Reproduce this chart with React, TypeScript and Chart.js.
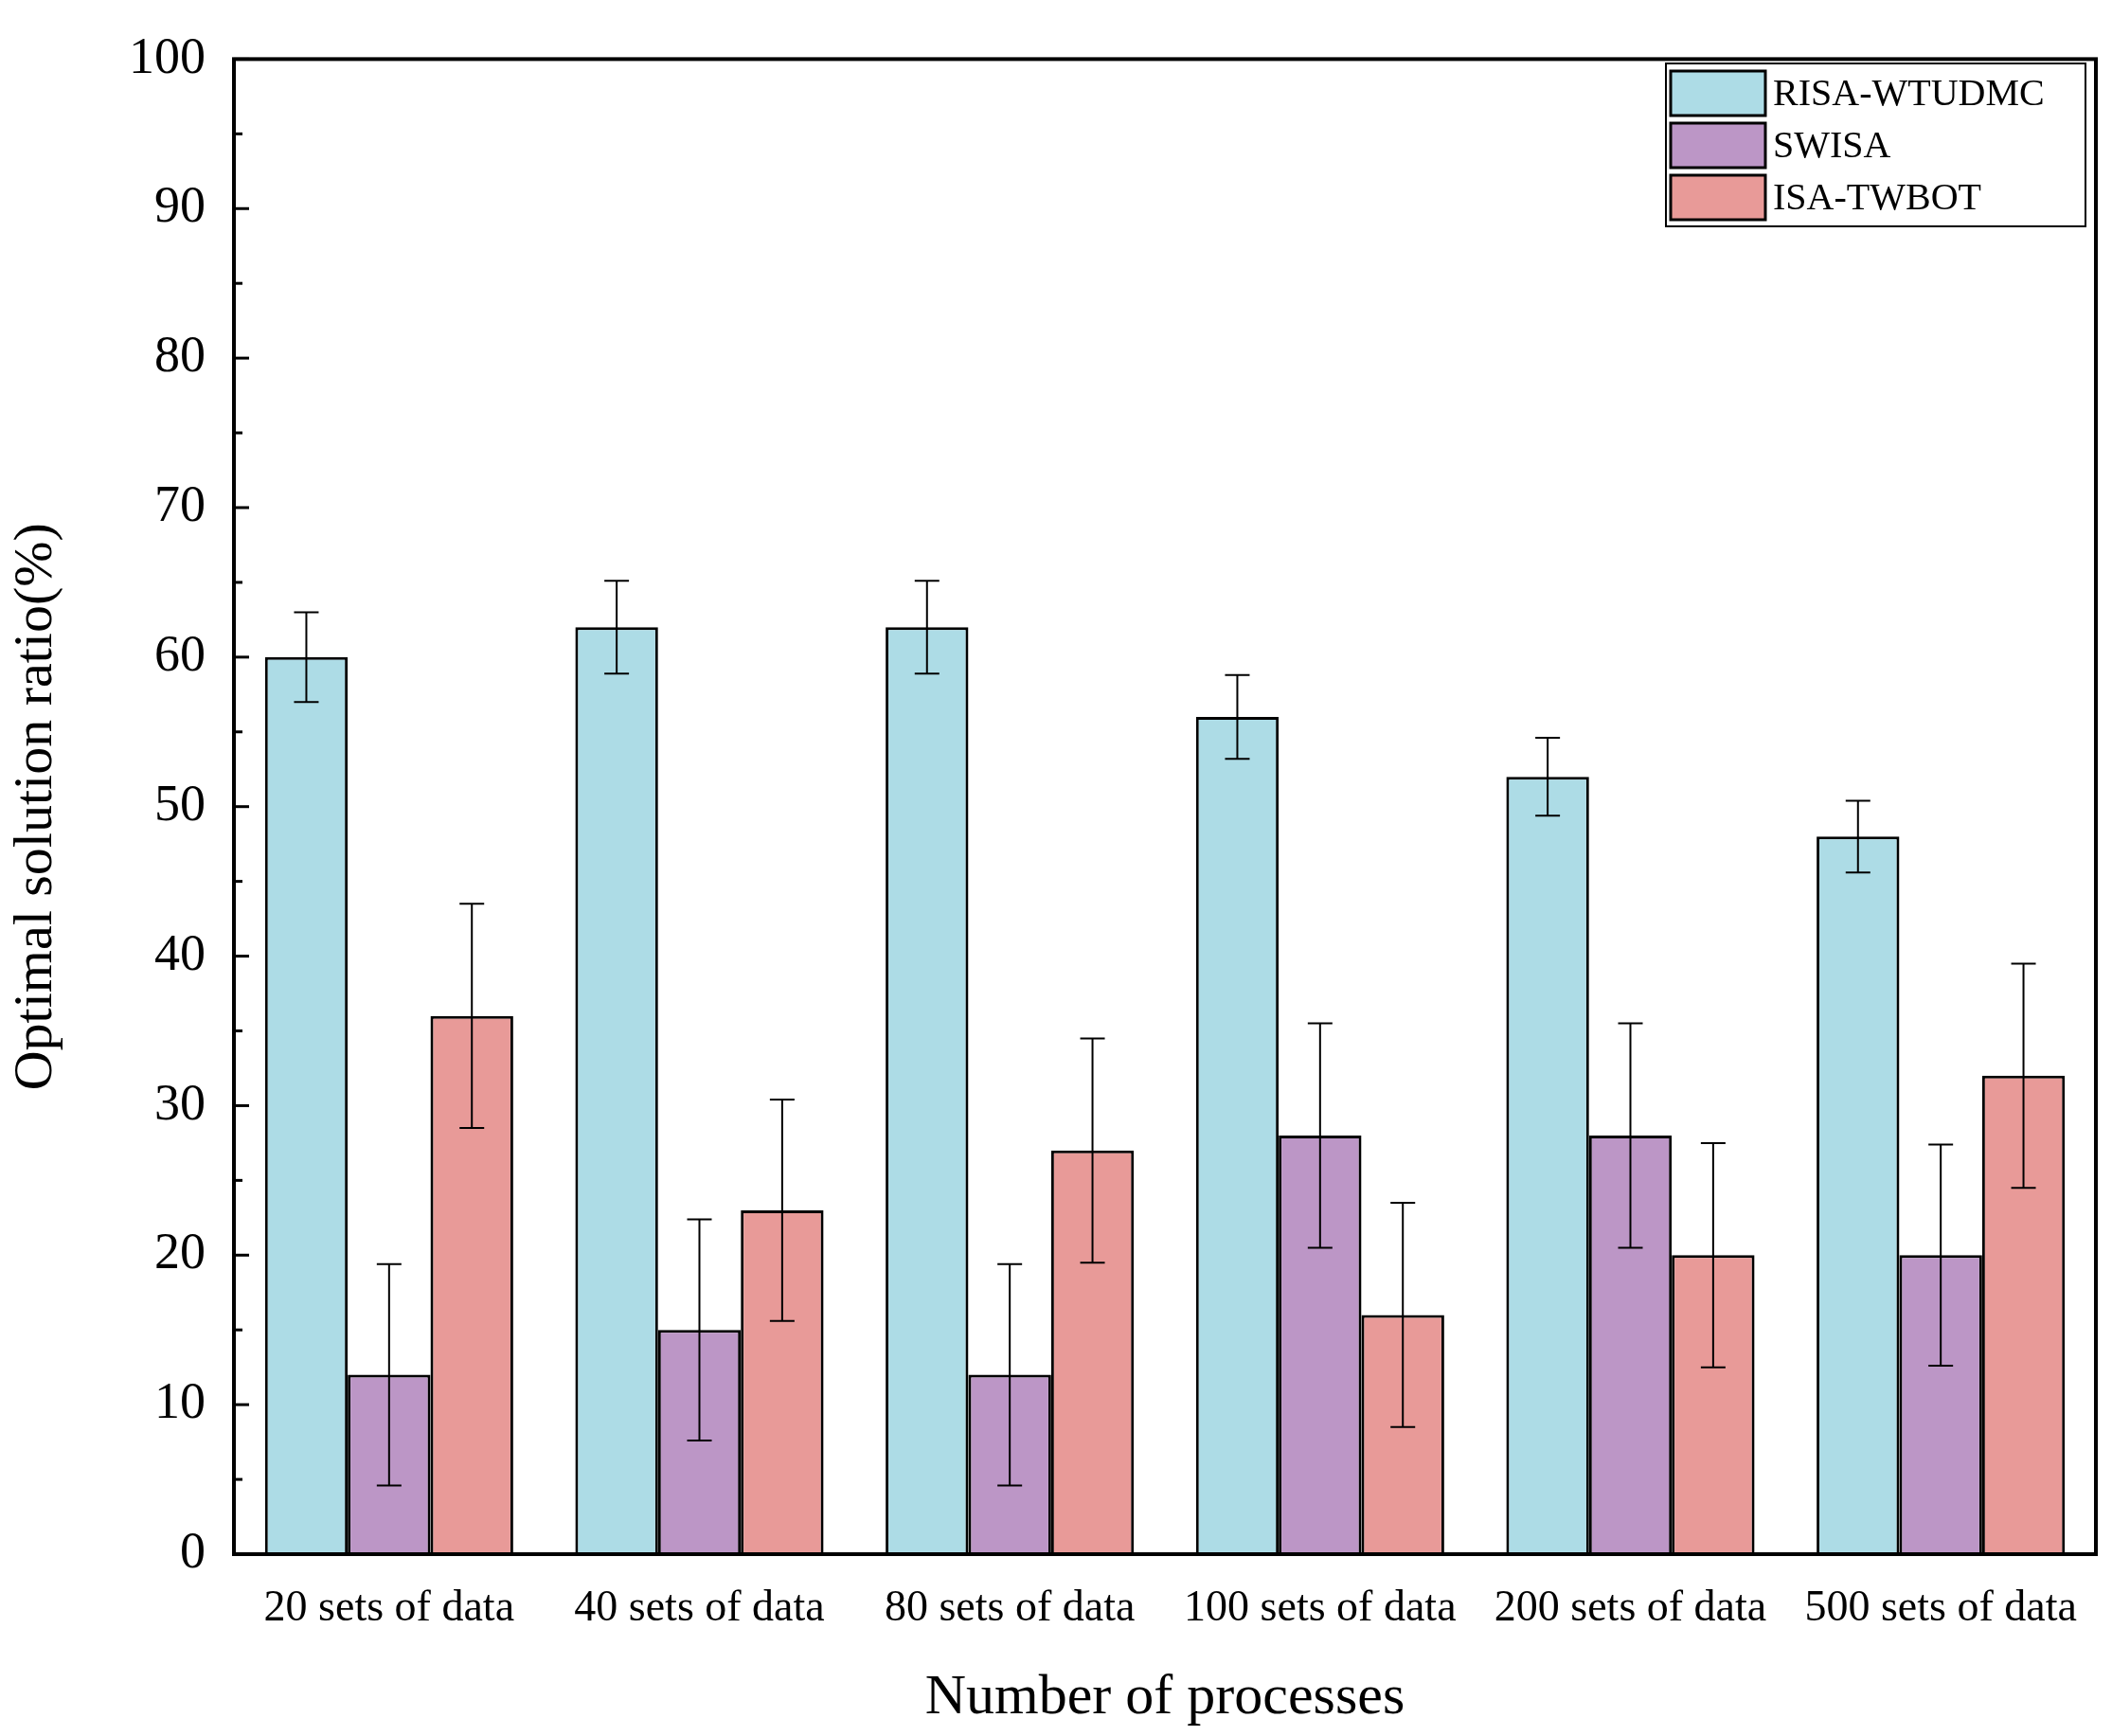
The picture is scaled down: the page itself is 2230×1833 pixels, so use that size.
import React, { useEffect, useRef } from "react";
import { Chart, registerables } from "chart.js";
Chart.register(...registerables);

const categories = ["20 sets of data", "40 sets of data", "80 sets of data", "100 sets of data", "200 sets of data", "500 sets of data"];
const seriesNames = ["RISA-WTUDMC", "SWISA", "ISA-TWBOT"];
const risa = [60, 62, 62, 56, 52, 48];
const risaErr = [3, 3.1, 3.1, 2.8, 2.6, 2.4];
const swisa = [12, 15, 12, 28, 28, 20];
const swisaErr = [7.4, 7.4, 7.4, 7.5, 7.5, 7.4];
const isa = [36, 23, 27, 16, 20, 32];
const isaErr = [7.5, 7.4, 7.5, 7.5, 7.5, 7.5];
const colors = ["#ADDCE6", "#BC96C6", "#E89A98"];
const errs = [risaErr, swisaErr, isaErr];

const FONT = "'Liberation Serif', 'Times New Roman', serif";

const deco = {
  id: "deco",
  afterDatasetsDraw(chart: any) {
    const ctx = chart.ctx;
    const y = chart.scales.y;
    const a = chart.chartArea;
    ctx.save();
    // error bars
    ctx.strokeStyle = "#000";
    ctx.lineWidth = 2;
    chart.data.datasets.forEach((ds: any, di: number) => {
      const meta = chart.getDatasetMeta(di);
      meta.data.forEach((bar: any, i: number) => {
        const v = ds.data[i];
        const e = errs[di][i];
        const x = bar.x;
        const yt = y.getPixelForValue(v + e);
        const yb = y.getPixelForValue(v - e);
        ctx.beginPath();
        ctx.moveTo(x, yt); ctx.lineTo(x, yb);
        ctx.moveTo(x - 13, yt); ctx.lineTo(x + 13, yt);
        ctx.moveTo(x - 13, yb); ctx.lineTo(x + 13, yb);
        ctx.stroke();
      });
    });
    // frame
    ctx.lineWidth = 4;
    ctx.strokeRect(a.left, a.top, a.right - a.left, a.bottom - a.top);
    // y ticks inward
    ctx.lineWidth = 3;
    for (let v = 0; v <= 100; v += 5) {
      const py = y.getPixelForValue(v);
      const len = v % 10 === 0 ? 16 : 9;
      ctx.beginPath();
      ctx.moveTo(a.left, py); ctx.lineTo(a.left + len, py);
      ctx.stroke();
    }
    // legend
    const lx = 1759, ly = 67, lw = 443, lh = 172;
    ctx.lineWidth = 2;
    ctx.fillStyle = "#fff";
    ctx.fillRect(lx, ly, lw, lh);
    ctx.strokeRect(lx, ly, lw, lh);
    ctx.font = `40px ${FONT}`;
    ctx.textBaseline = "middle";
    seriesNames.forEach((n, i) => {
      const ry = ly + 8 + i * 55;
      ctx.fillStyle = colors[i];
      ctx.fillRect(lx + 5, ry, 100, 47);
      ctx.lineWidth = 3;
      ctx.strokeRect(lx + 5, ry, 100, 47);
      ctx.fillStyle = "#000";
      ctx.fillText(n, lx + 113, ry + 25);
    });
    ctx.restore();
  },
};

export default function App() {
  const ref = useRef<HTMLCanvasElement>(null);
  useEffect(() => {
    const chart = new Chart(ref.current!, {
      type: "bar",
      data: {
        labels: categories,
        datasets: [risa, swisa, isa].map((d, i) => ({
          label: seriesNames[i],
          data: d,
          backgroundColor: colors[i],
          borderColor: "#000",
          borderWidth: 3,
          categoryPercentage: 0.8,
          barPercentage: 1,
        })),
      },
      options: {
        animation: false,
        responsive: false,
        layout: { padding: { left: 0, top: 60, right: 17, bottom: 0 } },
        plugins: { legend: { display: false }, tooltip: { enabled: false } },
        scales: {
          x: {
            grid: { display: false, drawTicks: false },
            border: { display: false },
            ticks: { color: "#000", font: { family: FONT, size: 46 }, padding: 30, maxRotation: 0, autoSkip: false },
            title: { display: true, text: "Number of processes", color: "#000", font: { family: FONT, size: 60 }, padding: { top: 20 } },
            afterFit: (s: any) => { s.height = 192; },
          },
          y: {
            min: 0, max: 100,
            grid: { display: false, drawTicks: false },
            border: { display: false },
            ticks: { stepSize: 10, color: "#000", font: { family: FONT, size: 54 }, padding: 30 },
            title: { display: true, text: "Optimal solution ratio(%)", color: "#000", font: { family: FONT, size: 58 }, padding: { bottom: 10 } },
            afterFit: (s: any) => { s.width = 247; },
          },
        },
      },
      plugins: [deco],
    });
    return () => chart.destroy();
  }, []);
  return (
    <div style={{ position: "absolute", left: 0, top: 0, width: 2230, height: 1833, background: "#fff" }}>
      <canvas ref={ref} width={2230} height={1833} />
    </div>
  );
}
